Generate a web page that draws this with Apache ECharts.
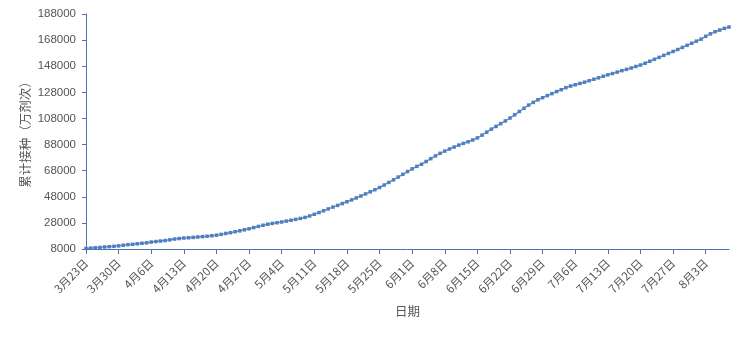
<!DOCTYPE html>
<html>
<head>
<meta charset="utf-8">
<script src="https://cdn.jsdelivr.net/npm/echarts@6/dist/echarts.min.js"></script>
<style>html,body{margin:0;padding:0;background:#fff;}#c{width:753px;height:338px;}</style>
</head>
<body>
<div id="c"></div>
<script>
const startMonth = 3, startDay = 23;
const monthLengths = {3:31,4:30,5:31,6:30,7:31,8:31};
const values = [
  8400, 8700, 8950, 9200, 9550, 9800, 10050, 10400, 10900, 11300,
  11600, 12000, 12400, 12700, 13300, 13700, 14100, 14500, 15000, 15600,
  16000, 16400, 16600, 16900, 17200, 17500, 17800, 18200, 18600, 19200,
  19900, 20500, 21200, 21900, 22700, 23500, 24400, 25300, 26200, 27000,
  27600, 28100, 28700, 29400, 30000, 30700, 31400, 32200, 33300, 34600,
  35900, 37300, 38700, 40100, 41400, 42800, 44200, 45600, 47100, 48600,
  50200, 51800, 53400, 55100, 57000, 59000, 61000, 63100, 65200, 67300,
  69400, 71300, 72900, 75000, 77200, 79300, 81300, 83000, 84600, 86100,
  87600, 88900, 90100, 91500, 93100, 95200, 97500, 99800, 101900, 104000,
  106100, 108300, 110800, 113300, 115800, 118200, 120300, 122300, 123900, 125500,
  127000, 128600, 130000, 131600, 132800, 133800, 134800, 135800, 136900, 138000,
  139100, 140300, 141400, 142400, 143500, 144600, 145600, 146600, 147800, 148900,
  150300, 151800, 153300, 154800, 156300, 157800, 159300, 160800, 162400, 164000,
  165600, 167200, 168700, 170900, 172800, 174400, 175700, 177000, 178000
];
// category labels (dates) built from start date, one per value
const categories = [];
{
  let m = startMonth, d = startDay;
  for (let i = 0; i < values.length; i++) {
    categories.push(m + '月' + d + '日');
    d++;
    if (d > monthLengths[m]) { d = 1; m++; }
  }
}
const yMin = 8000, yMax = 188000, yStep = 20000;
const yName = '累计接种（万剂次）';
const xName = '日期';

const chart = echarts.init(document.getElementById('c'), null, {renderer:'canvas'});
const txt = '#555555';
const axisBlue = '#4a76b8';
chart.setOption({
  animation: false,
  grid: {left: 86, right: 24, top: 14, bottom: 89},
  xAxis: {
    type: 'category',
    data: categories,
    boundaryGap: false,
    name: xName,
    nameLocation: 'middle',
    nameGap: 56,
    nameMoveOverlap: false,
    nameTextStyle: {color: txt, fontSize: 12.5, fontFamily: 'Noto Sans CJK SC'},
    axisLine: {lineStyle: {color: axisBlue, width: 1}},
    axisTick: {show: true, interval: 6, length: 5, lineStyle: {color: axisBlue}},
    axisLabel: {interval: 6, rotate: 45, color: txt, fontSize: 11.5, margin: 12, fontFamily: 'Noto Sans CJK SC'},
    splitLine: {show: false}
  },
  yAxis: {
    type: 'value',
    min: yMin, max: yMax, interval: yStep,
    name: yName,
    nameLocation: 'middle',
    nameGap: 54,
    nameRotate: 90,
    nameMoveOverlap: false,
    nameTextStyle: {color: txt, fontSize: 12.5, fontFamily: 'Noto Sans CJK SC'},
    axisLine: {show: true, lineStyle: {color: axisBlue, width: 1}},
    axisTick: {show: true, length: 4, lineStyle: {color: axisBlue}},
    axisLabel: {color: txt, fontSize: 11.5, margin: 10, fontFamily: 'Liberation Sans', formatter: v => String(v)},
    splitLine: {show: false}
  },
  series: [{
    type: 'line',
    data: values,
    symbol: 'rect',
    symbolSize: 3.5,
    showAllSymbol: true,
    lineStyle: {color: '#6a95cc', width: 1.5},
    itemStyle: {color: '#4f7fbf'}
  }]
});
</script>
</body>
</html>
